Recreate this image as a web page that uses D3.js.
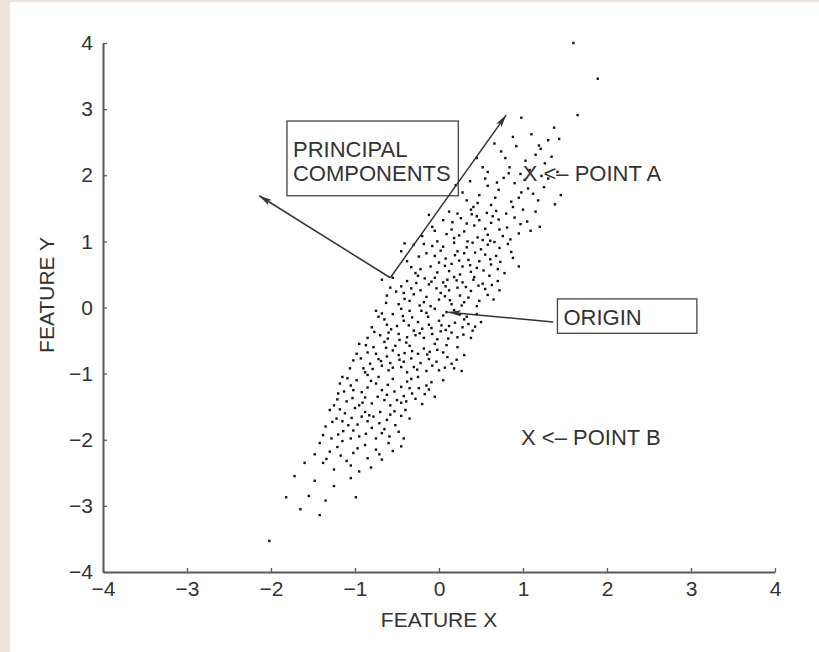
<!DOCTYPE html>
<html>
<head>
<meta charset="utf-8">
<script src="https://cdn.jsdelivr.net/npm/d3@7"></script>
<style>
  html, body { margin: 0; padding: 0; background: #ede3da; }
  svg { display: block; font-family: "Liberation Sans", Arial, Helvetica, sans-serif; }
  .axis path, .axis line { stroke: #5a5a5a; }
  .axis path { stroke-width: 2; }
  .axis line { stroke-width: 1.3; }
  .axis text { fill: #333; font-size: 21px; }
  .axis-label { fill: #333; font-size: 21px; }
  .note { fill: #333; font-size: 22px; }
</style>
</head>
<body>
<div id="chart"></div>
<script>
const WIDTH = 819;
const HEIGHT = 652;

const xTicks = [-4, -3, -2, -1, 0, 1, 2, 3, 4];
const yTicks = [-4, -3, -2, -1, 0, 1, 2, 3, 4];

// scatter, band by band along feature Y
const points = [
  [1.60, 4.00], [1.89, 3.46], [1.65, 2.91], [0.98, 2.87], [1.37, 2.72], [1.30, 2.53],
  [1.21, 2.40], [1.10, 2.62], [1.43, 2.55], [0.88, 2.58],
  [1.15, 2.31], [1.03, 2.22], [0.92, 2.44], [1.26, 2.18], [0.74, 2.36], [0.58, 2.05],
  [1.08, 2.08], [0.84, 2.12], [1.34, 2.28], [0.66, 2.48], [1.19, 2.45], [0.97, 2.02],
  [0.45, 2.26], [1.41, 2.05], [0.79, 2.26],
  [0.55, 1.95], [0.90, 1.88], [1.12, 1.72], [0.33, 1.62], [0.71, 1.78], [1.38, 1.56],
  [0.48, 1.70], [0.86, 1.60], [1.02, 1.93], [0.62, 1.55], [1.25, 1.82], [0.20, 1.85],
  [0.95, 1.66], [0.41, 1.52], [0.77, 1.96], [1.18, 1.62], [0.58, 1.84], [1.30, 1.95],
  [0.28, 1.74], [0.88, 1.52], [1.06, 1.80], [0.67, 1.66],
  [0.46, 1.58], [0.52, 2.12], [0.98, 1.74], [1.22, 1.99], [0.37, 1.91], [0.69, 1.89],
  [1.45, 1.70], [0.83, 2.03],
  [0.12, 1.45], [0.45, 1.38], [0.80, 1.42], [1.05, 1.30], [-0.08, 1.22], [0.30, 1.15],
  [0.62, 1.28], [0.95, 1.12], [0.18, 1.05], [0.52, 1.02], [0.72, 1.18], [-0.20, 1.08],
  [0.38, 1.48], [1.15, 1.45], [0.05, 1.32], [0.85, 1.03], [0.26, 1.35], [0.58, 1.10],
  [0.68, 1.46], [-0.02, 1.00], [0.42, 1.24], [0.90, 1.36], [1.20, 1.22], [0.15, 1.18],
  [0.48, 1.32], [0.76, 1.08], [0.34, 1.00], [1.00, 1.48], [0.22, 1.42], [0.64, 1.38],
  [-0.12, 1.40], [0.55, 1.19],
  [0.09, 1.11], [0.33, 1.27], [0.57, 1.43], [0.81, 1.21], [1.09, 1.16], [0.24, 1.09],
  [0.46, 1.06], [0.71, 1.33], [0.97, 1.26], [-0.05, 1.16], [0.61, 1.01], [0.39, 1.41],
  [0.16, 1.29],
  [-0.30, 0.95], [0.05, 0.92], [0.40, 0.98], [0.72, 0.90], [-0.15, 0.82], [0.22, 0.85],
  [0.55, 0.80], [0.88, 0.75], [-0.38, 0.70], [0.00, 0.68], [0.35, 0.72], [0.62, 0.65],
  [-0.22, 0.58], [0.12, 0.55], [0.45, 0.60], [0.78, 0.52], [-0.05, 0.78], [0.28, 0.62],
  [0.50, 0.88], [0.95, 0.62], [-0.28, 0.52], [0.18, 0.98], [0.68, 0.78], [0.08, 0.74],
  [0.38, 0.54], [-0.10, 0.62], [0.58, 0.95], [0.30, 0.82], [-0.45, 0.85], [0.82, 0.96],
  [0.15, 0.66], [0.48, 0.70], [-0.18, 0.96], [0.25, 0.50], [0.70, 0.58], [0.02, 0.86],
  [-0.24, 0.77], [0.07, 0.63], [0.33, 0.91], [0.61, 0.73], [0.86, 0.84], [-0.33, 0.61],
  [0.19, 0.79], [0.43, 0.83], [0.73, 0.69], [-0.08, 0.93], [0.53, 0.56], [0.24, 0.71],
  [-0.02, 0.53], [0.66, 0.99], [0.37, 0.64], [-0.41, 0.97],
  [-0.55, 0.45], [-0.25, 0.48], [0.10, 0.42], [0.42, 0.46], [0.70, 0.40], [-0.45, 0.32],
  [-0.12, 0.35], [0.22, 0.30], [0.55, 0.28], [-0.62, 0.18], [-0.30, 0.20], [0.02, 0.22],
  [0.35, 0.15], [0.65, 0.12], [-0.48, 0.05], [-0.18, 0.08], [0.15, 0.05], [0.45, 0.02],
  [-0.38, 0.40], [-0.05, 0.45], [0.28, 0.38], [0.60, 0.48], [-0.22, 0.26], [0.08, 0.32],
  [0.38, 0.25], [-0.58, 0.30], [-0.35, 0.10], [0.00, 0.12], [0.25, 0.18], [0.52, 0.36],
  [-0.10, 0.02], [0.18, 0.46], [-0.42, 0.22], [0.30, 0.08], [0.72, 0.26], [-0.15, 0.16],
  [0.12, 0.26], [0.48, 0.10], [-0.68, 0.42], [0.05, 0.38],
  [-0.51, 0.24], [-0.27, 0.37], [-0.03, 0.29], [0.21, 0.41], [0.47, 0.33], [-0.41, 0.13],
  [-0.17, 0.44], [0.07, 0.17], [0.32, 0.31], [0.58, 0.19], [-0.63, 0.07], [-0.09, 0.39],
  [0.27, 0.03], [0.41, 0.42], [-0.33, 0.29], [0.13, 0.11], [0.63, 0.34], [-0.23, 0.03],
  [-0.75, -0.05], [-0.45, -0.02], [-0.15, -0.08], [0.18, -0.04], [0.45, -0.10], [-0.65, -0.18],
  [-0.32, -0.15], [0.00, -0.20], [0.30, -0.18], [-0.80, -0.30], [-0.50, -0.28], [-0.20, -0.32],
  [0.12, -0.28], [0.40, -0.35], [-0.70, -0.42], [-0.38, -0.45], [-0.08, -0.40], [0.22, -0.45],
  [-0.55, -0.10], [-0.25, -0.22], [0.05, -0.12], [0.35, -0.25], [-0.60, -0.38], [-0.30, -0.35],
  [-0.02, -0.48], [0.25, -0.10], [-0.42, -0.20], [-0.12, -0.26], [0.15, -0.38], [0.50, -0.22],
  [-0.85, -0.46], [-0.48, -0.40], [-0.18, -0.46], [0.08, -0.34], [-0.35, -0.05], [-0.05, -0.02],
  [0.28, -0.30], [-0.62, -0.26], [-0.28, -0.42], [0.02, -0.36], [0.38, -0.46], [-0.72, -0.14],
  [-0.68, -0.09], [-0.43, -0.13], [-0.21, -0.05], [0.09, -0.07], [0.33, -0.14], [-0.57, -0.33],
  [-0.36, -0.27], [-0.09, -0.31], [0.19, -0.23], [0.43, -0.29], [-0.77, -0.37], [-0.47, -0.49],
  [-0.23, -0.39], [0.03, -0.27], [0.29, -0.41], [-0.61, -0.47], [-0.13, -0.14], [0.11, -0.47],
  [-0.95, -0.55], [-0.65, -0.52], [-0.35, -0.58], [-0.05, -0.55], [0.22, -0.60], [-0.85, -0.68],
  [-0.55, -0.65], [-0.25, -0.70], [0.05, -0.68], [-1.02, -0.80], [-0.72, -0.78], [-0.42, -0.82],
  [-0.12, -0.78], [0.15, -0.85], [-0.90, -0.92], [-0.60, -0.95], [-0.30, -0.90], [0.00, -0.95],
  [0.27, -0.96], [-0.78, -0.60], [-0.48, -0.72], [-0.18, -0.62], [0.10, -0.75], [-0.98, -0.70],
  [-0.68, -0.88], [-0.38, -0.98], [-0.08, -0.88], [-0.82, -0.85], [-0.52, -0.58], [-0.22, -0.84],
  [0.30, -0.72], [-0.62, -0.74], [-0.32, -0.66], [-0.02, -0.64], [-0.88, -0.98], [-0.45, -0.90],
  [-0.15, -0.96], [-0.75, -0.70], [0.18, -0.92], [-0.58, -0.84],
  [-0.87, -0.57], [-0.63, -0.61], [-0.41, -0.69], [-0.14, -0.71], [0.09, -0.57], [-0.93, -0.77],
  [-0.69, -0.81], [-0.47, -0.79], [-0.26, -0.94], [-0.03, -0.82], [0.21, -0.79], [-0.79, -0.93],
  [-0.55, -0.91], [-0.33, -0.77], [-0.11, -0.67], [-1.06, -0.92], [-0.39, -0.53], [0.07, -0.91],
  [-1.15, -1.05], [-0.85, -1.02], [-0.55, -1.08], [-0.25, -1.05], [0.05, -1.10], [-1.05, -1.18],
  [-0.75, -1.15], [-0.45, -1.20], [-0.15, -1.18], [-1.20, -1.30], [-0.92, -1.28], [-0.62, -1.32],
  [-0.32, -1.30], [-0.05, -1.35], [-1.10, -1.42], [-0.80, -1.45], [-0.50, -1.40], [-0.20, -1.46],
  [-0.98, -1.10], [-0.68, -1.25], [-0.38, -1.12], [-1.25, -1.48], [-0.88, -1.36], [-0.58, -1.48],
  [-0.28, -1.38], [-1.02, -1.25], [-0.72, -1.05], [-0.42, -1.34], [-0.12, -1.24], [-0.95, -1.48],
  [-0.65, -1.40], [-0.35, -1.22], [-1.18, -1.15],
  [-1.09, -1.07], [-0.81, -1.11], [-0.61, -1.17], [-0.33, -1.08], [-0.09, -1.13], [-1.13, -1.27],
  [-0.85, -1.21], [-0.53, -1.27], [-0.24, -1.22], [-1.03, -1.37], [-0.73, -1.35], [-0.45, -1.44],
  [-0.17, -1.31], [-1.21, -1.39], [-0.91, -1.44], [-0.39, -1.42],
  [-1.30, -1.55], [-1.00, -1.52], [-0.70, -1.58], [-0.40, -1.55], [-1.22, -1.68], [-0.92, -1.65],
  [-0.62, -1.70], [-0.35, -1.68], [-1.35, -1.80], [-1.08, -1.78], [-0.80, -1.82], [-0.52, -1.78],
  [-1.20, -1.92], [-0.95, -1.95], [-0.68, -1.90], [-0.42, -1.98], [-1.12, -1.60], [-0.85, -1.72],
  [-0.58, -1.62], [-1.28, -1.98], [-1.02, -1.86], [-0.75, -1.98], [-0.48, -1.88], [-1.15, -1.72],
  [-0.88, -1.58], [-0.65, -1.84], [-1.05, -1.98], [-0.78, -1.65],
  [-1.18, -1.54], [-0.83, -1.63], [-0.53, -1.57], [-1.27, -1.73], [-0.97, -1.77], [-0.71, -1.75],
  [-0.45, -1.64], [-1.14, -1.87], [-0.87, -1.91], [-0.59, -1.95], [-1.38, -1.93], [-1.04, -1.67],
  [-1.42, -2.05], [-1.15, -2.02], [-0.88, -2.08], [-0.60, -2.05], [-1.30, -2.18], [-1.02, -2.20],
  [-0.75, -2.15], [-0.45, -2.10], [-1.38, -2.35], [-1.10, -2.32], [-0.85, -2.28], [-1.25, -2.45],
  [-0.95, -2.48], [-1.48, -2.22], [-0.68, -2.30], [-1.60, -2.35],
  [-1.21, -2.11], [-0.97, -2.13], [-0.71, -2.22], [-1.34, -2.29], [-1.05, -2.39], [-0.81, -2.42],
  [-1.17, -2.24], [-0.55, -2.17],
  [-1.72, -2.55], [-1.48, -2.62], [-1.25, -2.70], [-1.05, -2.58], [-1.82, -2.87], [-0.99, -2.87],
  [-1.55, -2.85], [-1.35, -2.92],
  [-2.02, -3.53], [-1.42, -3.14], [-1.65, -3.05]
];

// principal component arrows: shared tail, two heads (data units)
const pcTail = [-0.58, 0.45];
const pcHeads = [[-2.14, 1.69], [0.80, 2.91]];
const pcLines = ["PRINCIPAL", "COMPONENTS"];
const pcBox = { x0: -1.81, y0: 2.82, x1: 0.23, y1: 1.69 };

const originArrow = { from: [1.36, -0.22], to: [0.11, -0.07] };
const originBox = { x0: 1.41, y0: 0.13, x1: 3.07, y1: -0.39 };

const pointNotes = [
  { label: "X <\u2013 POINT A", x: 1.08, y: 2.03 },
  { label: "X <\u2013 POINT B", x: 1.06, y: -1.96 }
];

const svg = d3.select("#chart")
  .append("svg")
  .attr("width", WIDTH)
  .attr("height", HEIGHT);

svg.append("rect")
  .attr("x", 10).attr("y", 2)
  .attr("width", WIDTH - 10).attr("height", HEIGHT - 2)
  .attr("fill", "#fff");

const x = d3.scaleLinear().domain([-4, 4]).range([103, 775]);
const y = d3.scaleLinear().domain([-4, 4]).range([572, 43]);

svg.append("g")
  .attr("class", "axis")
  .attr("transform", `translate(0,${y(-4)})`)
  .call(d3.axisBottom(x).tickValues(xTicks).tickSizeInner(-4).tickSizeOuter(0).tickPadding(9));

svg.append("g")
  .attr("class", "axis")
  .attr("transform", `translate(${x(-4)},0)`)
  .call(d3.axisLeft(y).tickValues(yTicks).tickSizeInner(-4).tickSizeOuter(0).tickPadding(10));

svg.append("text")
  .attr("class", "axis-label")
  .attr("x", x(0))
  .attr("y", 627)
  .attr("text-anchor", "middle")
  .text("FEATURE X");

svg.append("text")
  .attr("class", "axis-label")
  .attr("transform", `translate(54,${y(0.19)}) rotate(-90)`)
  .attr("text-anchor", "middle")
  .text("FEATURE Y");

svg.append("g")
  .selectAll("rect")
  .data(points)
  .join("rect")
  .attr("x", (d) => x(d[0]) - 1.2)
  .attr("y", (d) => y(d[1]) - 1.2)
  .attr("width", 2.4)
  .attr("height", 2.4)
  .attr("fill", "#111");

const defs = svg.append("defs");
defs.append("marker")
  .attr("id", "head")
  .attr("viewBox", "0 0 12 6")
  .attr("refX", 12).attr("refY", 3)
  .attr("markerWidth", 13).attr("markerHeight", 6.5)
  .attr("markerUnits", "userSpaceOnUse")
  .attr("orient", "auto")
  .append("path")
  .attr("d", "M0,0 L12,3 L0,6 L3,3 Z")
  .attr("fill", "#333");

// PC box and text
svg.append("rect")
  .attr("x", x(pcBox.x0))
  .attr("y", y(pcBox.y0))
  .attr("width", x(pcBox.x1) - x(pcBox.x0))
  .attr("height", y(pcBox.y1) - y(pcBox.y0))
  .attr("fill", "none")
  .attr("stroke", "#444")
  .attr("stroke-width", 1.3);

svg.append("g")
  .selectAll("text")
  .data(pcLines)
  .join("text")
  .attr("class", "note")
  .attr("x", x(pcBox.x0) + 6)
  .attr("y", (_, i) => y(pcBox.y0) + 36 + i * 24)
  .text((d) => d);

svg.append("g")
  .selectAll("line")
  .data(pcHeads)
  .join("line")
  .attr("x1", x(pcTail[0]))
  .attr("y1", y(pcTail[1]))
  .attr("x2", (d) => x(d[0]))
  .attr("y2", (d) => y(d[1]))
  .attr("stroke", "#333")
  .attr("stroke-width", 1.5)
  .attr("marker-end", "url(#head)");

// origin box, text and arrow
svg.append("rect")
  .attr("x", x(originBox.x0))
  .attr("y", y(originBox.y0))
  .attr("width", x(originBox.x1) - x(originBox.x0))
  .attr("height", y(originBox.y1) - y(originBox.y0))
  .attr("fill", "none")
  .attr("stroke", "#444")
  .attr("stroke-width", 1.3);

svg.append("text")
  .attr("class", "note")
  .attr("x", x(originBox.x0) + 6)
  .attr("y", y(originBox.y1) - 8)
  .text("ORIGIN");

svg.append("line")
  .attr("x1", x(originArrow.from[0]))
  .attr("y1", y(originArrow.from[1]))
  .attr("x2", x(originArrow.to[0]))
  .attr("y2", y(originArrow.to[1]))
  .attr("stroke", "#333")
  .attr("stroke-width", 1.5)
  .attr("marker-end", "url(#head)");

// point A / point B
svg.append("g")
  .selectAll("text")
  .data(pointNotes)
  .join("text")
  .attr("class", "note")
  .attr("x", (d) => x(d.x) - 7)
  .attr("y", (d) => y(d.y) + 8)
  .text((d) => d.label);
</script>
</body>
</html>
